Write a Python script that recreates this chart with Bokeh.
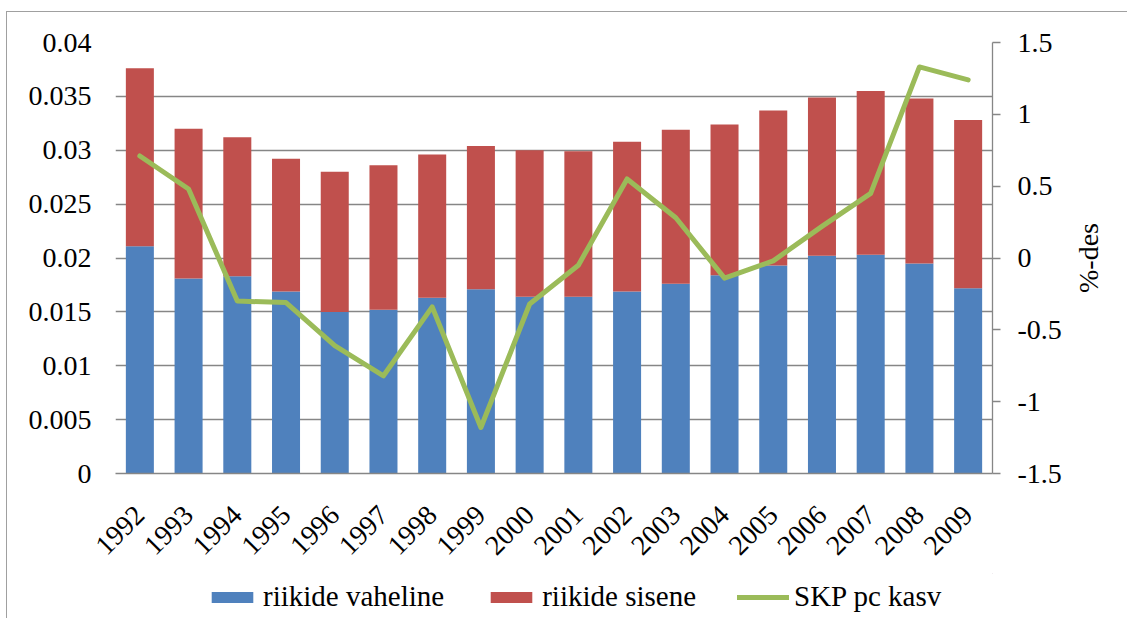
import math
from bokeh.plotting import figure
from bokeh.layouts import column
from bokeh.models import (Range1d, LinearAxis, FixedTicker, NumeralTickFormatter,
                          Legend, LegendItem)
from bokeh.embed import file_html
from bokeh.resources import INLINE

years = ["1992", "1993", "1994", "1995", "1996", "1997", "1998", "1999", "2000",
         "2001", "2002", "2003", "2004", "2005", "2006", "2007", "2008", "2009"]
between = [0.0211, 0.0181, 0.0183, 0.0169, 0.0150, 0.0152, 0.0163, 0.0171, 0.0164,
           0.0164, 0.0169, 0.0176, 0.0184, 0.0193, 0.0202, 0.0203, 0.0195, 0.0172]
totals = [0.0376, 0.0320, 0.0312, 0.0292, 0.0280, 0.0286, 0.0296, 0.0304, 0.0300,
          0.0299, 0.0308, 0.0319, 0.0324, 0.0337, 0.0349, 0.0355, 0.0348, 0.0328]
within = [round(t - b, 4) for t, b in zip(totals, between)]
gdp_growth = [0.71, 0.48, -0.30, -0.31, -0.61, -0.82, -0.34, -1.18, -0.32,
              -0.05, 0.55, 0.28, -0.14, -0.02, 0.22, 0.45, 1.33, 1.24]
series_names = ["riikide vaheline", "riikide sisene", "SKP pc kasv"]
right_title = "%-des"

FONT = "Liberation Serif"
FS = "28px"
FS_LEG = "29px"
GRID = "#868686"
BLUE, RED, GREEN = "#4F81BD", "#C0504D", "#9BBB59"

OX, OY = 7, 12          # outer chart border offset
W = 1120
H_MAIN = 561
H_LEG = 45
FL, FR, FT, FB = 115, 992, 42, 473   # frame edges in page pixels

p = figure(x_range=years, y_range=Range1d(0, 0.04), width=W, height=H_MAIN,
           output_backend="svg", toolbar_location=None,
           min_border_left=FL - OX, min_border_right=W - (FR - OX),
           min_border_top=FT - OY, min_border_bottom=H_MAIN - (FB - OY))
p.extra_y_ranges = {"pct": Range1d(-1.5, 1.5)}
p.outline_line_color = None
p.background_fill_color = "white"
p.border_fill_color = "white"

src = dict(year=years, between=between, within=within)
bars = p.vbar_stack(["between", "within"], x="year", width=0.575, source=src,
                    color=[BLUE, RED], line_color=None)
line = p.line(years, gdp_growth, y_range_name="pct", line_color=GREEN,
              line_width=5, line_join="round", line_cap="round")

# left axis
ya = p.yaxis[0]
ya.ticker = FixedTicker(ticks=[i * 0.005 for i in range(9)])
ya.formatter = NumeralTickFormatter(format="0.[000]")
ya.axis_line_color = None
ya.major_tick_line_color = None
ya.minor_tick_line_color = None
ya.major_tick_out = 0
ya.major_label_standoff = 24
ya.major_label_text_font = FONT
ya.major_label_text_font_size = FS
ya.major_label_text_color = "black"

p.ygrid.ticker = FixedTicker(ticks=[i * 0.005 for i in range(9)])
p.ygrid.grid_line_color = GRID
p.ygrid.grid_line_width = 1.3
p.xgrid.grid_line_color = None

# right axis
ra = LinearAxis(y_range_name="pct", ticker=FixedTicker(ticks=[-1.5, -1, -0.5, 0, 0.5, 1, 1.5]),
                formatter=NumeralTickFormatter(format="0.[0]"))
ra.axis_line_color = GRID
ra.axis_line_width = 1.3
ra.major_tick_line_color = GRID
ra.major_tick_line_width = 1.3
ra.major_tick_out = 8
ra.major_tick_in = 0
ra.minor_tick_line_color = None
ra.major_label_standoff = 17
ra.major_label_text_font = FONT
ra.major_label_text_font_size = FS
ra.major_label_text_color = "black"
p.add_layout(ra, "right")

# right axis title, drawn as a rotated tick label of a bare axis
title_pos = -0.2436
ta = LinearAxis(y_range_name="pct", ticker=FixedTicker(ticks=[title_pos]),
                major_label_overrides={title_pos: right_title})
ta.axis_line_color = None
ta.major_tick_line_color = None
ta.minor_tick_line_color = None
ta.major_tick_out = 0
ta.major_tick_in = 0
ta.major_label_orientation = math.pi / 2
ta.major_label_standoff = 24
ta.major_label_text_font = FONT
ta.major_label_text_font_size = FS
ta.major_label_text_color = "black"
p.add_layout(ta, "right")

# x axis
xa = p.xaxis[0]
xa.axis_line_color = GRID
xa.axis_line_width = 1.3
xa.major_tick_line_color = None
xa.minor_tick_line_color = None
xa.major_tick_out = 0
xa.major_label_standoff = 37
xa.major_label_orientation = math.pi / 4
xa.major_label_text_font = FONT
xa.major_label_text_font_size = FS
xa.major_label_text_color = "black"

# legend strip below the chart (its frame is aligned with the chart's frame)
lf = figure(width=W, height=H_LEG, x_range=Range1d(0, 1), y_range=Range1d(0, 1),
            output_backend="svg", toolbar_location=None,
            min_border_left=0, min_border_right=0, min_border_top=0, min_border_bottom=0)
lf.axis.visible = False
lf.grid.visible = False
lf.outline_line_color = None
lf.background_fill_color = "white"
lf.border_fill_color = "white"
r1 = lf.vbar(x=[5], top=[5], bottom=[4], width=0.5, color=BLUE, line_color=None)
r2 = lf.vbar(x=[5], top=[5], bottom=[4], width=0.5, color=RED, line_color=None)
r3 = lf.line(x=[5, 6], y=[5, 5], line_color=GREEN, line_width=5, line_cap="round")
legend = Legend(items=[LegendItem(label=series_names[0], renderers=[r1]),
                       LegendItem(label=series_names[1], renderers=[r2]),
                       LegendItem(label=series_names[2], renderers=[r3])],
                orientation="horizontal", location=(206 - FL, 5),
                label_text_font=FONT, label_text_font_size=FS_LEG, label_text_color="black",
                glyph_width=52, glyph_height=14, label_standoff=5, spacing=41,
                border_line_color=None, background_fill_alpha=0,
                padding=0, margin=0)
lf.add_layout(legend)

layout = column(p, lf, spacing=0, margin=(OY - 1, 0, 0, OX - 1))
layout.styles = {"border-top": "1px solid #A0A0A0", "border-left": "1px solid #A0A0A0"}
open("out.html", "w").write(file_html(layout, INLINE))
